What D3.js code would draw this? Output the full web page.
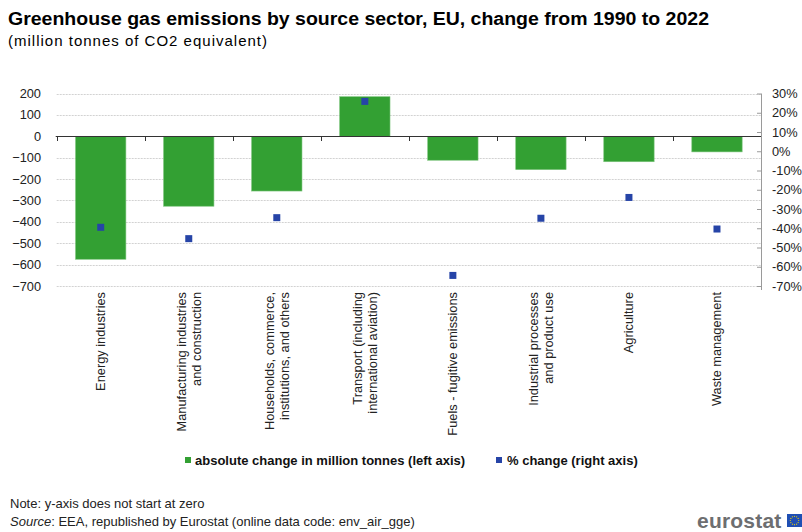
<!DOCTYPE html>
<html>
<head>
<meta charset="utf-8">
<script src="https://cdn.jsdelivr.net/npm/d3@7"></script>
<style>
  html, body { margin: 0; padding: 0; background: #fff; }
  svg { display: block; font-family: "Liberation Sans", Arial, sans-serif; }
</style>
</head>
<body>
<svg id="chart" width="802" height="532"></svg>
<script>
// Source sectors (labels split into lines)
const categories = [
  ["Energy industries"],
  ["Manufacturing industries", "and construction"],
  ["Households, commerce,", "institutions, and others"],
  ["Transport (including", "international aviation)"],
  ["Fuels - fugitive emissions"],
  ["Industrial processes", "and product use"],
  ["Agriculture"],
  ["Waste management"]
];
// Absolute change 1990-2022, million tonnes CO2 equivalent
const absoluteChange = [-575, -327, -256, 185, -112, -156, -119, -73];
// Relative change 1990-2022, %
const percentChange = [-39.5, -45.4, -34.5, 25.9, -64.5, -34.8, -24.0, -40.4];
// Axis ticks
const leftTicks = [200, 100, 0, -100, -200, -300, -400, -500, -600, -700];
const rightTicks = [30, 20, 10, 0, -10, -20, -30, -40, -50, -60, -70];

const GREEN = "#33a033";
const BLUE = "#2644a7";

const svg = d3.select("#chart");

const plot = { left: 56.7, right: 761, top: 93.5, bottom: 286 };

const x = d3.scaleBand()
  .domain(d3.range(categories.length))
  .range([plot.left, plot.right])
  .padding(0);

const yL = d3.scaleLinear().domain([-700, 200]).range([plot.bottom, plot.top]);
const yR = d3.scaleLinear().domain([-70, 30]).range([plot.bottom, plot.top]);

// Title block
svg.append("text")
  .attr("x", 8).attr("y", 24.5)
  .attr("font-size", 17.5).attr("font-weight", "bold").attr("fill", "#000")
  .attr("textLength", 701).attr("lengthAdjust", "spacingAndGlyphs")
  .text("Greenhouse gas emissions by source sector, EU, change from 1990 to 2022");
svg.append("text")
  .attr("x", 8).attr("y", 46)
  .attr("font-size", 15).attr("fill", "#000")
  .attr("textLength", 259).attr("lengthAdjust", "spacing")
  .text("(million tonnes of CO2 equivalent)");

// Horizontal gridlines
svg.append("g")
  .selectAll("line")
  .data(leftTicks.filter(d => d !== 0))
  .join("line")
  .attr("x1", plot.left).attr("x2", plot.right)
  .attr("y1", d => Math.round(yL(d)) + 0.5).attr("y2", d => Math.round(yL(d)) + 0.5)
  .attr("stroke", "#d2d2d2").attr("stroke-width", 1).attr("stroke-dasharray", "2,1");

// Left axis labels
const leftAxis = d3.axisLeft(yL).tickValues(leftTicks).tickSize(0).tickPadding(0);
const gL = svg.append("g").attr("transform", `translate(41,0)`).call(leftAxis);
gL.select(".domain").remove();
gL.selectAll("text").attr("font-size", 12.8).attr("fill", "#222").attr("font-family", "Liberation Sans, Arial, sans-serif");

// Right axis
const rightAxis = d3.axisRight(yR).tickValues(rightTicks).tickSize(-4).tickPadding(11)
  .tickFormat(d => d + "%");
const gR = svg.append("g").attr("transform", `translate(${plot.right},0)`).call(rightAxis);
gR.select(".domain").attr("stroke", "#9a9a9a").attr("d", `M0.5,${plot.top}V${plot.bottom + 4}`);
gR.selectAll(".tick line").attr("stroke", "#9a9a9a");
gR.selectAll("text").attr("font-size", 12.8).attr("fill", "#222").attr("font-family", "Liberation Sans, Arial, sans-serif");

// Bars
const barW = x.bandwidth() * 0.572;
svg.append("g")
  .selectAll("rect")
  .data(absoluteChange)
  .join("rect")
  .attr("x", (d, i) => x(i) + (x.bandwidth() - barW) / 2)
  .attr("y", d => yL(Math.max(0, d)))
  .attr("width", barW)
  .attr("height", d => Math.abs(yL(d) - yL(0)))
  .attr("fill", GREEN)
  .attr("stroke", "#7cc47c").attr("stroke-width", 0.6);

// Zero line with category ticks
const zeroY = Math.round(yL(0)) + 0.5;
svg.append("line")
  .attr("x1", plot.left - 1).attr("x2", plot.right)
  .attr("y1", zeroY).attr("y2", zeroY)
  .attr("stroke", "#333").attr("stroke-width", 1.2);
svg.append("g")
  .selectAll("line")
  .data(d3.range(categories.length))
  .join("line")
  .attr("x1", i => Math.round(x(i)) + 0.5).attr("x2", i => Math.round(x(i)) + 0.5)
  .attr("y1", zeroY).attr("y2", zeroY + 4.5)
  .attr("stroke", "#333").attr("stroke-width", 1);

// Percentage markers
const mk = 7;
svg.append("g")
  .selectAll("rect")
  .data(percentChange)
  .join("rect")
  .attr("x", (d, i) => x(i) + x.bandwidth() / 2 - mk / 2)
  .attr("y", d => yR(d) - mk / 2)
  .attr("width", mk).attr("height", mk)
  .attr("fill", BLUE);

// Category labels, rotated
const labels = svg.append("g")
  .selectAll("text")
  .data(categories)
  .join("text")
  .attr("transform", (d, i) => `translate(${x(i) + x.bandwidth() / 2},292) rotate(-90)`)
  .attr("text-anchor", "end")
  .attr("font-size", 12.8).attr("fill", "#222");
labels.each(function(d) {
  const t = d3.select(this);
  const n = d.length;
  d.forEach((line, k) => {
    t.append("tspan")
      .attr("x", 0)
      .attr("y", (k - (n - 1) / 2) * 14.5 + 4.5)
      .text(line);
  });
});

// Legend
const legend = svg.append("g").attr("font-size", 13).attr("font-weight", "bold").attr("fill", "#111");
legend.append("rect").attr("x", 185).attr("y", 457).attr("width", 6).attr("height", 6).attr("fill", GREEN);
legend.append("text").attr("x", 195).attr("y", 465).text("absolute change in million tonnes (left axis)");
legend.append("rect").attr("x", 496).attr("y", 457).attr("width", 6).attr("height", 6).attr("fill", BLUE);
legend.append("text").attr("x", 507).attr("y", 465).text("% change (right axis)");

// Footnotes
svg.append("text").attr("x", 10).attr("y", 507.5).attr("font-size", 13).attr("fill", "#222")
  .text("Note: y-axis does not start at zero");
const src = svg.append("text").attr("x", 10).attr("y", 525.5).attr("font-size", 13).attr("fill", "#222");
src.append("tspan").attr("font-style", "italic").text("Source");
src.append("tspan").text(": EEA, republished by Eurostat (online data code: env_air_gge)");

// Eurostat logo
svg.append("text").attr("x", 697).attr("y", 528)
  .attr("font-size", 21).attr("font-weight", "bold").attr("fill", "#6d6e70")
  .attr("letter-spacing", 0.2)
  .text("eurostat");
const flag = svg.append("g").attr("transform", "translate(787,514)");
flag.append("rect").attr("width", 15).attr("height", 13).attr("fill", "#1f4fb4");
d3.range(12).forEach(k => {
  const a = k * Math.PI / 6;
  flag.append("circle")
    .attr("cx", 7.5 + 4.2 * Math.cos(a)).attr("cy", 6.5 + 4.2 * Math.sin(a))
    .attr("r", 0.6).attr("fill", "#f5d400");
});
</script>
</body>
</html>
